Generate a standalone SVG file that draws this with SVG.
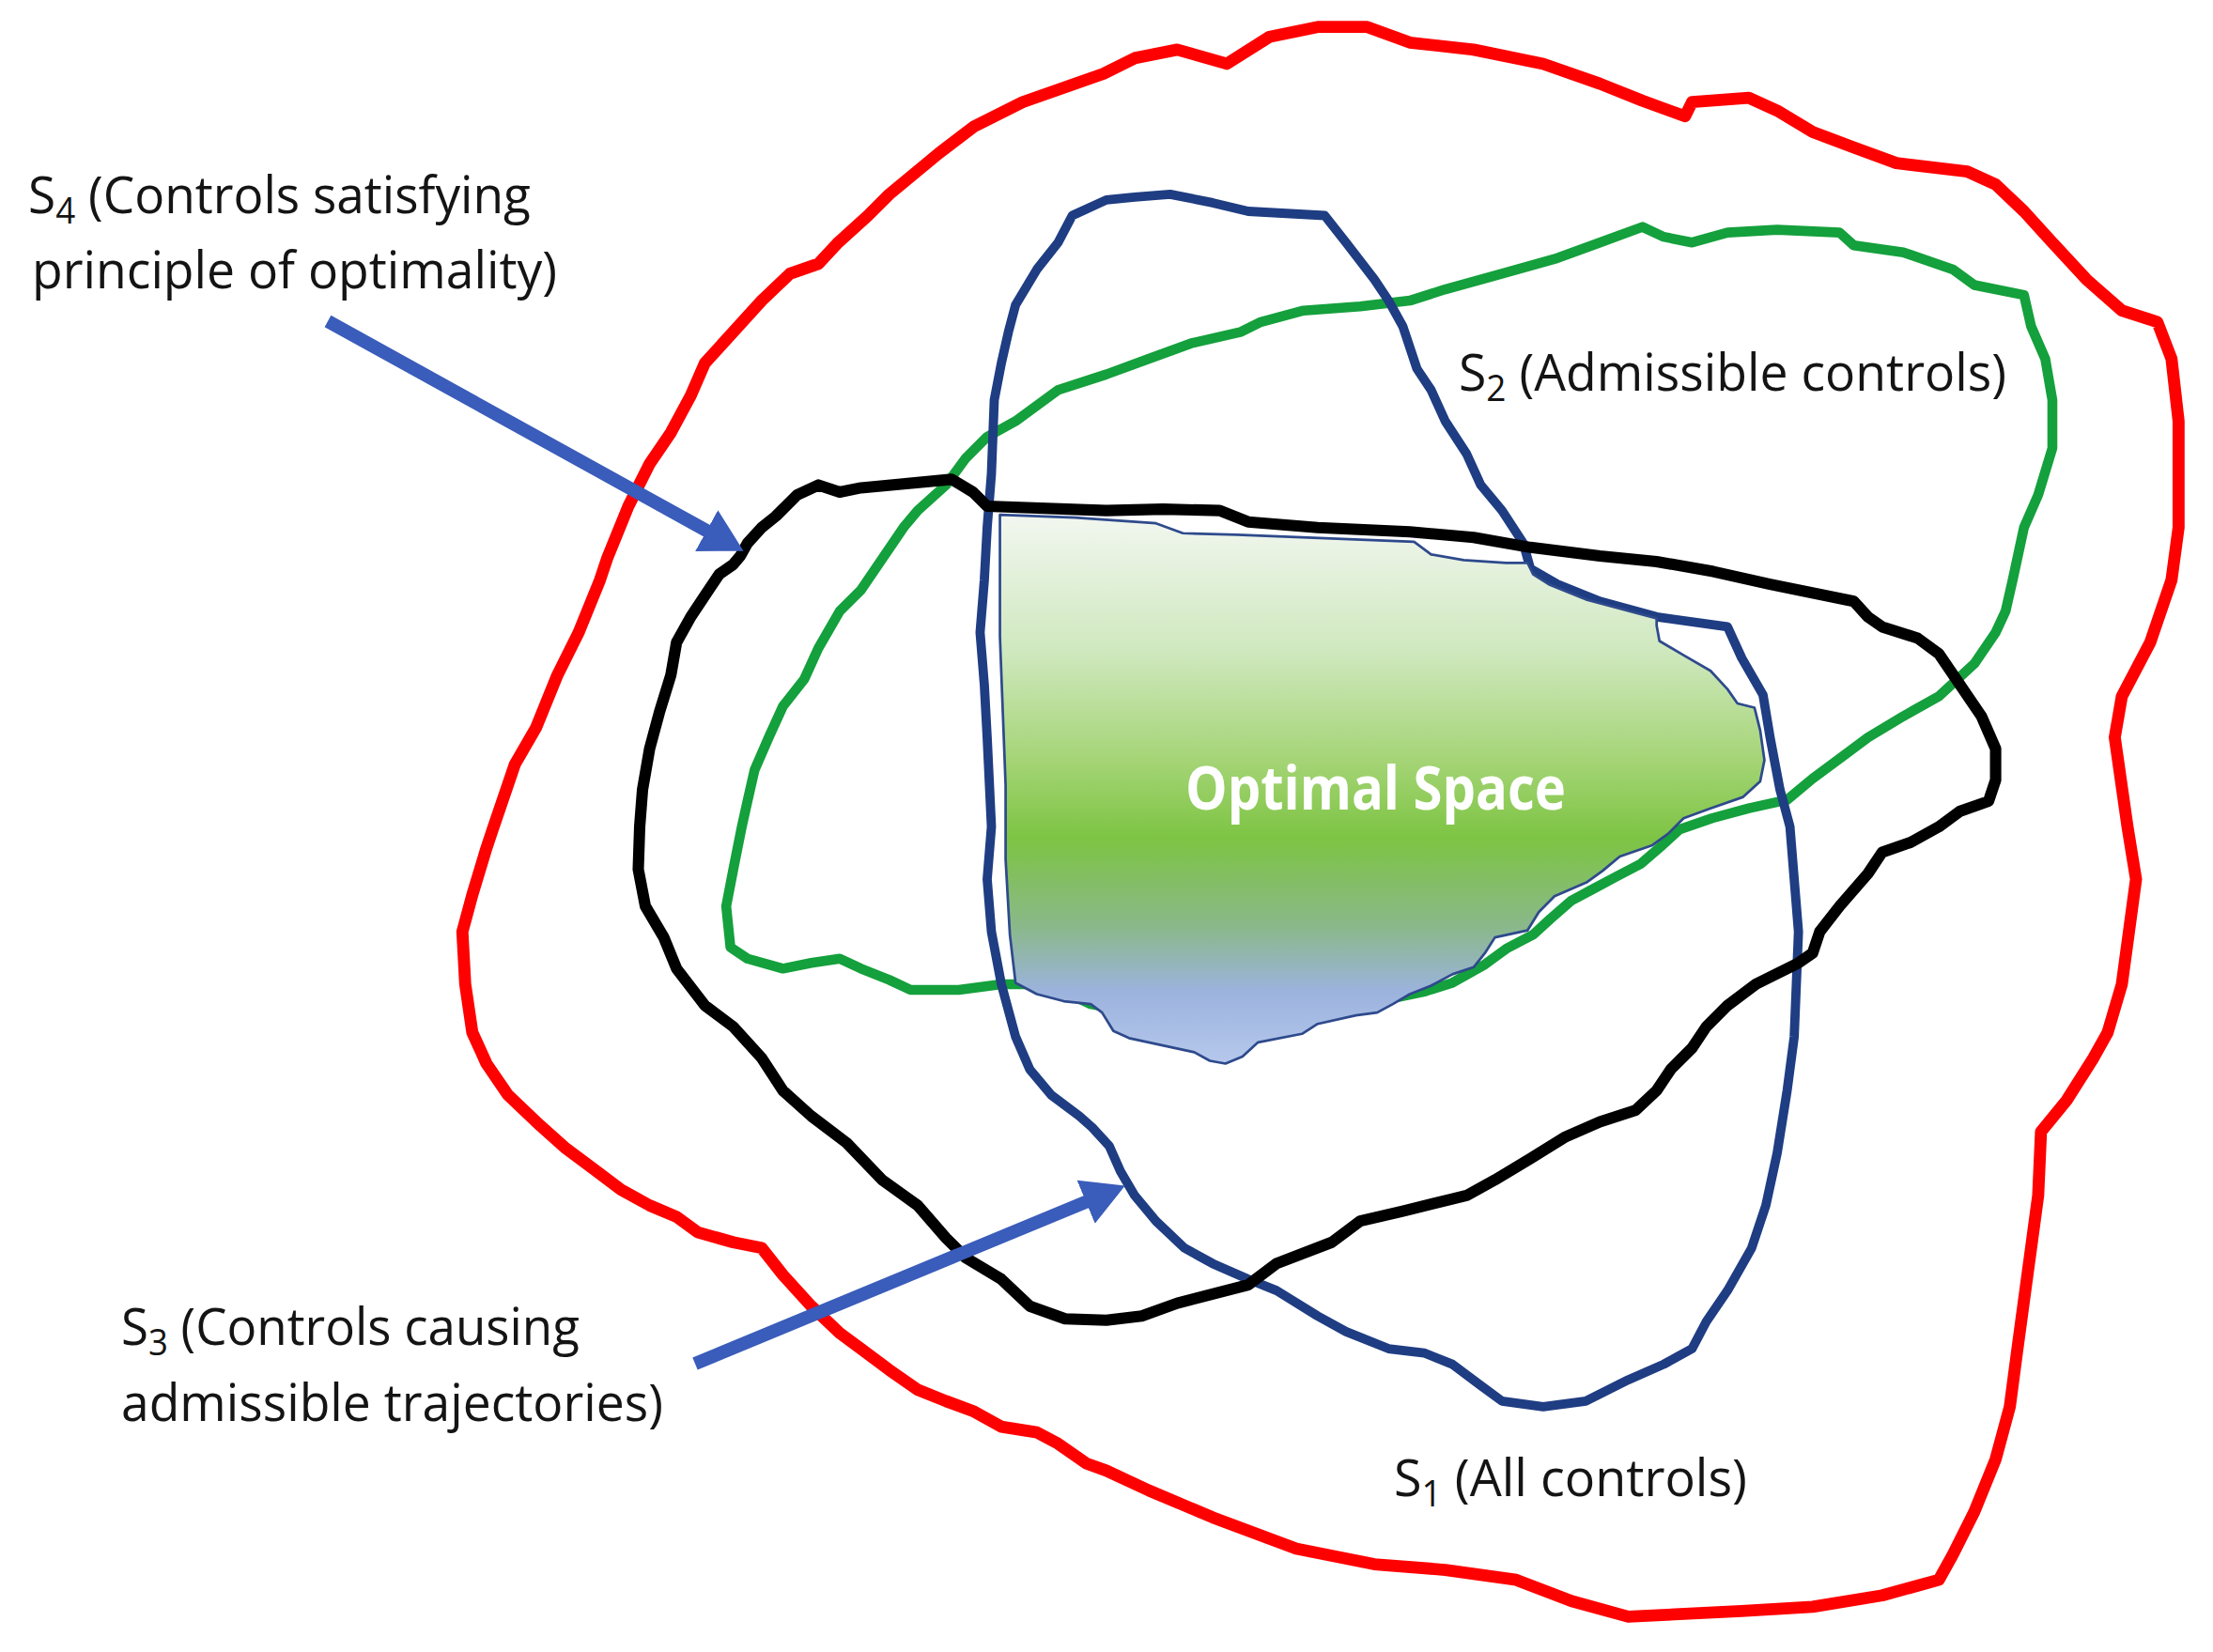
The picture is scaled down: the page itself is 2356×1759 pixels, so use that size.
<svg xmlns="http://www.w3.org/2000/svg" width="2356" height="1759" viewBox="0 0 2356 1759">
<defs>
<linearGradient id="optGrad" x1="0" y1="0" x2="0" y2="1">
<stop offset="0" stop-color="#F2F7F0"/>
<stop offset="0.25" stop-color="#CFE8BE"/>
<stop offset="0.45" stop-color="#A4D475"/>
<stop offset="0.59" stop-color="#7DC443"/>
<stop offset="0.75" stop-color="#8AB88A"/>
<stop offset="0.87" stop-color="#9CB3DE"/>
<stop offset="1" stop-color="#B6C8EC"/>
</linearGradient>
<marker id="arrowHead" viewBox="0 0 45 50" refX="2" refY="25" markerWidth="45" markerHeight="50" markerUnits="userSpaceOnUse" orient="auto">
<path d="M0,0 L45,25 L0,50 Z" fill="#3A5CBA"/>
</marker>
</defs>
<style>
.curve{fill:none;stroke-linejoin:round;stroke-linecap:round}
.lbl{font-family:"Open Sans","Liberation Sans",sans-serif;font-size:55px;fill:#141414}
.sub{font-size:38px}
.arrow{fill:none;stroke:#3A5CBA;stroke-width:14}
</style>
<rect width="2356" height="1759" fill="#FFFFFF"/>

<g id="s1-all-controls">
<path class="curve" transform="scale(1.51)" stroke="#FF0000" stroke-width="8.5" d="M348,583 L363,539 L378,513 L393,476 L408,446 L423,409 L428,394 L443,357 L458,327 L473,305 L487,279 L497,256 L517,234 L537,212 L557,193 L577,186 L591,171 L612,152 L627,137 L662,108 L687,89 L721,72 L778,52 L800,41 L830,35 L865,45 L895,26 L929,19 L964,19 L994,30 L1039,35 L1088,45 L1128,59 L1158,71 L1188,82 L1193,72 L1233,69 L1253,78 L1278,93 L1307,104 L1337,115 L1387,121 L1407,130 L1427,149 L1447,171 L1471,197 L1496,219 L1521,227 L1531,253 L1536,297 L1536,372 L1531,409 L1516,453 L1496,491 L1491,520 L1500,583 L1506,620 L1501,657 L1496,694 L1486,728 L1476,746 L1457,776 L1439,798 L1437,843 L1432,880 L1427,917 L1422,954 L1417,992 L1407,1029 L1392,1066 L1377,1096 L1367,1114 L1327,1125 L1278,1133 L1228,1136 L1148,1140 L1108,1129 L1069,1114 L1019,1107 L969,1103 L914,1092 L855,1070 L810,1051 L780,1037 L766,1032 L746,1018 L731,1010 L706,1006 L686,995 L667,988 L647,980 L627,966 L607,951 L592,940 L572,921 L552,899 L537,880 L517,876 L492,869 L477,858 L458,850 L438,839 L418,824 L398,809 L378,791 L358,772 L343,750 L333,728 L328,694 L326,657 L333,631 L343,598 Z"/>
<text class="lbl" x="1484" y="1593" textLength="376" lengthAdjust="spacingAndGlyphs">S<tspan class="sub" dy="11">1</tspan><tspan dy="-11"> (All controls)</tspan></text>
</g>

<g id="s2-admissible-controls">
<path class="curve" transform="scale(1.51)" stroke="#14A03C" stroke-width="7" d="M515,668 L512,639 L517,613 L523,583 L527,565 L532,543 L542,520 L552,498 L567,479 L577,457 L592,431 L607,416 L622,394 L637,372 L647,360 L667,342 L681,323 L696,308 L716,297 L746,275 L780,264 L810,253 L840,242 L875,234 L889,227 L919,219 L959,216 L994,212 L1019,204 L1059,193 L1098,182 L1128,171 L1158,160 L1173,167 L1193,171 L1218,164 L1253,162 L1297,164 L1307,173 L1342,178 L1377,190 L1392,201 L1427,208 L1432,230 L1442,253 L1447,282 L1447,316 L1437,349 L1427,372 L1419,409 L1414,431 L1407,446 L1392,468 L1367,491 L1342,505 L1317,520 L1297,535 L1278,549 L1260,564 L1233,570 L1207,577 L1184,585 L1172,596 L1157,609 L1138,619 L1123,627 L1108,635 L1093,648 L1081,659 L1062,669 L1047,680 L1024,693 L1005,699 L986,703 L900,712 L800,714 L769,708 L756,702 L731,694 L706,694 L676,698 L642,698 L627,691 L607,683 L592,676 L572,679 L552,683 L527,676 Z"/>
<text class="lbl" x="1553" y="416" textLength="583" lengthAdjust="spacingAndGlyphs">S<tspan class="sub" dy="11">2</tspan><tspan dy="-11"> (Admissible controls)</tspan></text>
</g>

<g id="s3-admissible-trajectories">
<path class="curve" transform="scale(1.51)" stroke="#1F3D82" stroke-width="6.5" d="M699,583 L696,520 L694,483 L691,446 L694,409 L696,372 L699,334 L701,282 L706,256 L711,234 L716,215 L731,190 L746,171 L756,152 L780,141 L800,139 L825,137 L855,143 L880,149 L934,152 L949,171 L969,197 L979,212 L989,230 L999,260 L1009,275 L1019,297 L1034,320 L1044,342 L1059,360 L1074,383 L1079,401 L1098,412 L1128,424 L1168,435 L1218,442 L1228,464 L1243,490 L1248,520 L1255,557 L1262,583 L1268,657 L1265,731 L1260,769 L1253,813 L1245,850 L1235,880 L1218,910 L1203,932 L1193,951 L1173,962 L1148,973 L1118,988 L1088,992 L1059,988 L1044,977 L1024,962 L1004,954 L979,951 L949,939 L929,928 L900,910 L880,902 L855,891 L835,880 L815,861 L800,843 L790,826 L782,808 L770,795 L761,787 L741,772 L726,754 L716,731 L706,694 L699,657 L696,620 Z"/>
<text class="lbl" x="129" y="1432" textLength="488" lengthAdjust="spacingAndGlyphs">S<tspan class="sub" dy="11">3</tspan><tspan dy="-11"> (Controls causing</tspan></text>
<text class="lbl" x="129" y="1513" textLength="577" lengthAdjust="spacingAndGlyphs">admissible trajectories)</text>
</g>

<g id="optimal-space">
<path transform="scale(1.51)" fill="url(#optGrad)" stroke="#2E4A8C" stroke-width="1.8" stroke-linejoin="round" d="M705,363 L758,365 L815,369 L834,376 L872,377 L997,382 L1009,391 L1032,395 L1062,397 L1077,397 L1081,405 L1092,412 L1119,423 L1168,436 L1168,441 L1170,452 L1187,462 L1206,473 L1218,486 L1225,496 L1237,499 L1241,515 L1244,536 L1241,551 L1229,562 L1206,570 L1187,577 L1176,588 L1165,596 L1142,604 L1130,614 L1119,622 L1096,632 L1085,643 L1077,656 L1054,661 L1047,672 L1039,682 L1024,687 L1009,695 L994,701 L982,708 L971,714 L956,716 L929,722 L918,729 L887,735 L876,745 L864,750 L853,748 L842,742 L819,737 L796,732 L785,727 L777,714 L769,708 L750,706 L731,701 L716,693 L712,659 L709,606 L709,554 L705,449 Z"/>
<text x="1262" y="862" textLength="405" lengthAdjust="spacingAndGlyphs" font-family="'Open Sans','Liberation Sans',sans-serif" font-weight="bold" font-size="64" fill="#FFFFFF">Optimal Space</text>
</g>

<g id="s4-principle-of-optimality">
<path class="curve" transform="scale(1.51)" stroke="#000000" stroke-width="8" d="M522,392 L527,383 L537,372 L547,364 L562,349 L577,342 L592,347 L607,344 L671,338 L686,347 L696,357 L780,360 L820,359 L860,360 L880,368 L929,372 L994,375 L1039,379 L1079,386 L1128,392 L1168,396 L1208,403 L1248,412 L1307,424 L1317,435 L1327,442 L1352,450 L1367,461 L1382,483 L1397,505 L1407,528 L1407,550 L1402,565 L1382,572 L1367,583 L1347,594 L1327,601 L1317,616 L1297,639 L1283,657 L1278,672 L1268,679 L1238,694 L1218,709 L1203,724 L1193,739 L1178,754 L1168,769 L1153,783 L1128,791 L1103,802 L1079,817 L1054,832 L1034,843 L989,854 L959,861 L939,876 L900,891 L880,906 L830,919 L805,928 L780,931 L751,930 L726,921 L706,902 L681,887 L667,873 L647,850 L622,832 L597,806 L572,787 L552,769 L537,746 L517,724 L497,709 L477,683 L468,661 L455,639 L450,613 L451,583 L453,557 L458,528 L465,502 L473,476 L477,453 L487,435 L497,420 L507,405 L517,398 Z"/>
<text class="lbl" x="30" y="227" textLength="535" lengthAdjust="spacingAndGlyphs">S<tspan class="sub" dy="11">4</tspan><tspan dy="-11"> (Controls satisfying</tspan></text>
<text class="lbl" x="34" y="307" textLength="559" lengthAdjust="spacingAndGlyphs">principle of optimality)</text>
</g>

<g id="connectors">
<line class="arrow" x1="349" y1="342" x2="754" y2="566" marker-end="url(#arrowHead)"/>
<line class="arrow" x1="740" y1="1452" x2="1158" y2="1279" marker-end="url(#arrowHead)"/>
</g>
</svg>
